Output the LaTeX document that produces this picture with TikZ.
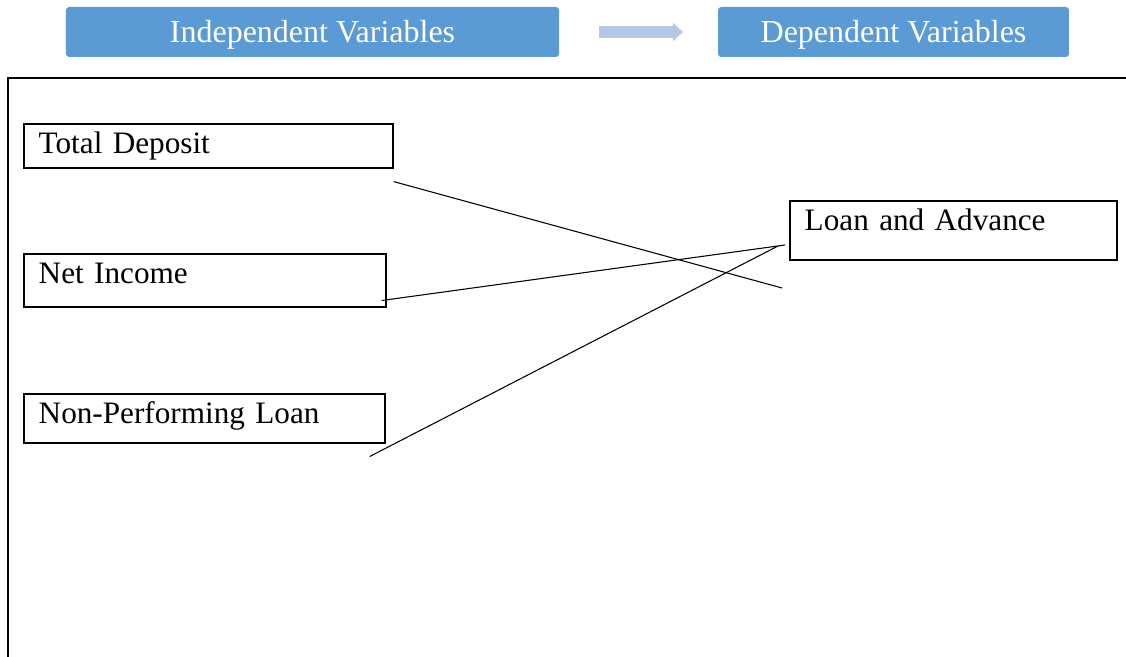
\documentclass[tikz,border=0pt]{standalone}
\usepackage{fontspec}
\setmainfont{Liberation Serif}
\usetikzlibrary{calc}
\definecolor{hdrblue}{RGB}{91,155,213}
\definecolor{flowblue}{RGB}{180,199,231}

\begin{document}
\begin{tikzpicture}[
    x=0.375pt, y=-0.375pt,
    header/.style={rectangle, fill=hdrblue, rounded corners=1.2pt, text=white, font=\fontsize{12}{14}\selectfont, minimum height=18.75pt, inner sep=0pt, text height=8.5pt, text depth=0.5pt},
    varbox/.style={rectangle, draw, line width=0.6pt, anchor=north west, align=left, inner xsep=5.6pt, inner ysep=0pt, text height=11pt, font=\fontsize{11.7}{14}\selectfont},
    link/.style={line width=0.4pt}
  ]
  \useasboundingbox (0,0) rectangle (1126,657);

  % headers
  \node[header, minimum width=184.9pt] (indep) at (312.5,32) {Independent Variables};
  \node[header, minimum width=131.6pt] (dep) at (893.5,32) {Dependent Variables};
  \fill[flowblue] (599,26.2) -- (673,26.2) -- (673,23) -- (683,32) -- (673,41) -- (673,37.8) -- (599,37.8) -- cycle;

  % frame
  \draw[line width=0.75pt] (8,657) -- (8,78) -- (1126,78);

  % variables
  \node[varbox, text width=127.2pt, text depth=5.5pt] (td) at (23,123) {Total Deposit};
  \node[varbox, text width=124.55pt, text depth=8.85pt] (ni) at (23,253) {Net Income};
  \node[varbox, text width=124.2pt, text depth=7.35pt] (npl) at (23,393) {Non-Performing Loan};
  \node[varbox, text width=111.4pt, text depth=11.15pt] (la) at (789,200) {Loan and Advance};

  \coordinate (tdEnd) at (782,288);
  \coordinate (laIn) at ($(la.north west)+(-4,45)$);
  \coordinate (laIn2) at ($(la.north west)+(-11,46)$);
  \draw[link] ($(td.south east)+(0,13)$) -- (tdEnd);
  \draw[link] ($(ni.south east)+(-5,-7)$) -- (laIn);
  \draw[link] ($(npl.south east)+(-16,13)$) -- (laIn2);
\end{tikzpicture}
\end{document}
